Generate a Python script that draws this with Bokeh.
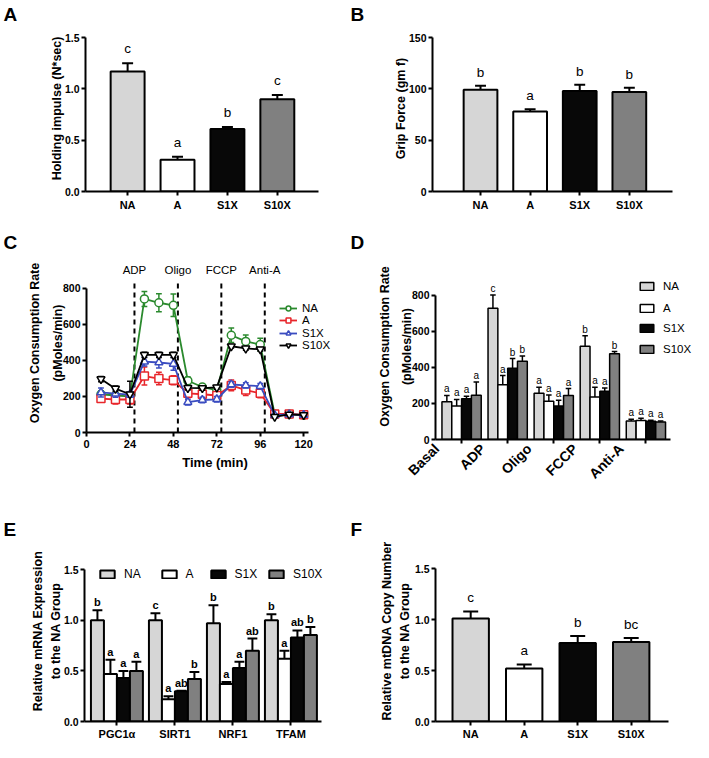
import math
from bokeh.plotting import figure
from bokeh.models import (Range1d, FixedTicker, Legend, LegendItem,
                          NumeralTickFormatter)
from bokeh.layouts import column, row
from bokeh.embed import file_html
from bokeh.resources import INLINE
from bokeh.core.properties import value

FONT = "Liberation Sans"

# ---------------- data ----------------
groups = ["NA", "A", "S1X", "S10X"]
group_fills = ["#d6d6d6", "#ffffff", "#080808", "#808080"]

# A: holding impulse
holding_mean = [1.17, 0.31, 0.61, 0.90]
holding_err = [0.08, 0.03, 0.02, 0.04]
holding_sig = ["c", "a", "b", "c"]

# B: grip force
grip_mean = [99, 78, 98, 97]
grip_err = [4, 2, 6, 4]
grip_sig = ["b", "a", "b", "b"]

# C: oxygen consumption time course
ocr_time = [8, 16, 24, 32, 40, 48, 56, 64, 72, 80, 88, 96, 104, 112, 120]
ocr_na = [212, 205, 200, 740, 719, 705, 287, 252, 235, 539, 505, 487, 101, 101, 96]
ocr_na_err = [20, 15, 15, 42, 50, 62, 20, 15, 15, 40, 35, 35, 8, 8, 5]
ocr_a = [188, 183, 183, 313, 299, 290, 217, 212, 205, 261, 235, 217, 103, 103, 98]
ocr_a_err = [20, 25, 25, 50, 35, 25, 25, 25, 20, 30, 30, 25, 8, 8, 5]
ocr_s1x = [222, 215, 210, 393, 388, 380, 168, 180, 184, 266, 261, 257, 96, 100, 97]
ocr_s1x_err = [25, 20, 15, 25, 30, 35, 15, 15, 15, 15, 15, 15, 8, 5, 5]
ocr_s10x = [296, 243, 212, 430, 430, 430, 247, 246, 250, 478, 466, 461, 87, 100, 97]
ocr_s10x_err = [15, 15, 72, 15, 15, 15, 12, 12, 10, 10, 10, 10, 5, 5, 5]
injections = ["ADP", "Oligo", "FCCP", "Anti-A"]
injection_time = [26.5, 50.5, 74.5, 98.5]
injection_line_top = 846
c_xticks = [0, 24, 48, 72, 96, 120]
c_yticks = [0, 200, 400, 600, 800]

# D: OCR by phase
phases = ["Basal", "ADP", "Oligo", "FCCP", "Anti-A"]
phase_na = [209, 727, 256, 516, 103]
phase_na_err = [35, 73, 33, 58, 9]
phase_na_sig = ["a", "c", "a", "b", "a"]
phase_a = [186, 303, 212, 235, 105]
phase_a_err = [36, 51, 35, 54, 12]
phase_a_sig = ["a", "a", "a", "a", "a"]
phase_s1x = [226, 394, 186, 267, 101]
phase_s1x_err = [14, 54, 31, 18, 5]
phase_s1x_sig = ["a", "b", "a", "a", "a"]
phase_s10x = [245, 433, 244, 475, 97]
phase_s10x_err = [73, 29, 38, 12, 6]
phase_s10x_sig = ["a", "b", "a", "b", "a"]

# E: relative mRNA expression
genes = ["PGC1α", "SIRT1", "NRF1", "TFAM"]
gene_na = [1.00, 1.00, 0.97, 1.00]
gene_na_err = [0.10, 0.07, 0.18, 0.06]
gene_na_sig = ["b", "c", "b", "b"]
gene_a = [0.47, 0.22, 0.37, 0.62]
gene_a_err = [0.14, 0.03, 0.02, 0.08]
gene_a_sig = ["a", "a", "a", "a"]
gene_s1x = [0.43, 0.30, 0.53, 0.83]
gene_s1x_err = [0.07, 0.005, 0.06, 0.07]
gene_s1x_sig = ["a", "ab", "a", "ab"]
gene_s10x = [0.50, 0.42, 0.70, 0.855]
gene_s10x_err = [0.09, 0.07, 0.12, 0.08]
gene_s10x_sig = ["a", "b", "ab", "b"]

# F: relative mtDNA copy number
mtdna_mean = [1.01, 0.52, 0.77, 0.78]
mtdna_err = [0.07, 0.04, 0.07, 0.04]
mtdna_sig = ["c", "a", "b", "bc"]


# ---------------- helpers ----------------
def make_fig(w, h, mbl, mbr, mbt, mbb, xr, yr, xb, yb, letter):
    p = figure(width=w, height=h, x_range=Range1d(*xr), y_range=Range1d(*yr),
               output_backend="svg", toolbar_location=None,
               min_border_left=mbl, min_border_right=mbr,
               min_border_top=mbt, min_border_bottom=mbb, title=letter)
    p.title.align = "left"
    p.title.offset = 3 - mbl
    p.title.standoff = 2
    p.title.text_font = FONT
    p.title.text_font_size = "19px"
    p.title.text_font_style = "bold"
    p.title.text_color = "black"
    p.outline_line_color = None
    p.xgrid.visible = False
    p.ygrid.visible = False
    p.background_fill_color = "white"
    p.border_fill_color = "white"
    p.xaxis.bounds = xb
    p.yaxis.bounds = yb
    for ax in (p.xaxis[0], p.yaxis[0]):
        ax.axis_line_width = 2
        ax.axis_line_color = "black"
        ax.major_tick_line_width = 2
        ax.major_tick_line_color = "black"
        ax.major_tick_out = 4
        ax.major_tick_in = 0
        ax.minor_tick_line_color = None
        ax.major_label_text_font = FONT
        ax.major_label_text_font_style = "bold"
        ax.major_label_text_color = "black"
        ax.major_label_standoff = 3
        ax.axis_label_text_font = FONT
        ax.axis_label_text_font_style = "bold"
        ax.axis_label_text_font_size = "12.5px"
        ax.axis_label_text_color = "black"
        ax.axis_label_standoff = 5
    p.xaxis.major_label_text_font_size = "11px"
    p.yaxis.major_label_text_font_size = "10.5px"
    p.yaxis.major_label_standoff = 2
    p.yaxis.axis_label_standoff = -2
    return p


def cat_xaxis(p, labels, pad=""):
    p.xaxis.ticker = FixedTicker(ticks=list(range(len(labels))))
    p.xaxis.major_label_overrides = {i: lab + pad for i, lab in enumerate(labels)}


def bars(p, xs, means, errs, sigs, fill, width, cap, lw, sig_size, sig_style, sig_off):
    tops = [m + e for m, e in zip(means, errs)]
    p.segment(x0=xs, y0=means, x1=xs, y1=tops, line_color="black", line_width=lw)
    p.segment(x0=[x - cap / 2 for x in xs], y0=tops, x1=[x + cap / 2 for x in xs], y1=tops,
              line_color="black", line_width=lw)
    r = p.vbar(x=xs, top=means, bottom=0, width=width, fill_color=fill,
               line_color="black", line_width=lw)
    p.text(x=xs, y=tops, text=sigs, text_align="center", text_baseline="bottom",
           y_offset=-sig_off, text_font=value(FONT), text_font_size=sig_size,
           text_font_style=sig_style, text_color="black")
    return r


def place_legend(p, items, xs_, ycs, h, **kw):
    # one legend per entry, so each row/column sits exactly where the reference has it
    for it, x, yc in zip(items, xs_, ycs):
        opts = dict(padding=0, margin=0, spacing=0, border_line_color=None,
                    background_fill_alpha=0, label_text_font=FONT,
                    label_text_color="black", label_width=0, label_height=h)
        opts.update(kw)
        p.add_layout(Legend(items=[it], location=(x, yc - h / 2), **opts))


xs = list(range(len(groups)))

# ---------------- panel A ----------------
pA = make_fig(347, 228, 85, 29, 25, 37, (-0.844, 3.825), (0, 1.619),
              (-0.844, 3.825), (0, 1.5), "A")
cat_xaxis(pA, groups)
pA.yaxis.ticker = FixedTicker(ticks=[0, 0.5, 1.0, 1.5])
pA.yaxis.formatter = NumeralTickFormatter(format="0.0")
pA.yaxis.axis_label = "Holding impulse (N*sec)"
bars(pA, xs, holding_mean, holding_err, holding_sig, group_fills, 0.68, 0.22, 2,
     "13.5px", "normal", 7)

# ---------------- panel B ----------------
pB = make_fig(346, 228, 85, 21, 25, 35, (-0.968, 3.87), (0, 161.7),
              (-0.968, 3.87), (0, 150), "B")
cat_xaxis(pB, groups)
pB.yaxis.ticker = FixedTicker(ticks=[0, 50, 100, 150])
pB.yaxis.axis_label = "Grip Force (gm f)"
bars(pB, xs, grip_mean, grip_err, grip_sig, group_fills, 0.68, 0.22, 2,
     "13.5px", "normal", 6)

# ---------------- panel C ----------------
pC = make_fig(347, 256, 86, 4, 25, 46, (0, 142.0), (0, 992),
              (0, 122.7), (0, 800), "C")
pC.xaxis.ticker = FixedTicker(ticks=c_xticks)
pC.yaxis.ticker = FixedTicker(ticks=c_yticks)
pC.xaxis.axis_label = "Time (min)"
pC.xaxis.axis_label_text_font_size = "13px"
pC.xaxis.axis_label_standoff = 4
pC.yaxis.axis_label = "Oxygen Consumption Rate\n(pMoles/min)"
pC.yaxis.axis_label_text_line_height = 1.65
pC.yaxis.axis_label_standoff = -5
pC.segment(x0=injection_time, y0=[0] * len(injection_time), x1=injection_time,
           y1=[injection_line_top] * len(injection_time), line_color="black",
           line_width=2, line_dash="5 4")
pC.text(x=injection_time, y=[injection_line_top] * len(injection_time), text=injections,
        text_align="center", text_baseline="bottom", y_offset=-4,
        text_font=value(FONT), text_font_size="11.5px", text_color="black")
series_c = [
    ("NA", ocr_na, ocr_na_err, "#2b8a2e", "circle"),
    ("A", ocr_a, ocr_a_err, "#e8262b", "square"),
    ("S1X", ocr_s1x, ocr_s1x_err, "#3a4cc0", "triangle"),
    ("S10X", ocr_s10x, ocr_s10x_err, "#000000", "inverted_triangle"),
]
items_c = []
for name, ys, es, col, mk in series_c:
    lr = pC.line(ocr_time, ys, line_color=col, line_width=1.8)
    lo = [y - e for y, e in zip(ys, es)]
    hi = [y + e for y, e in zip(ys, es)]
    pC.segment(x0=ocr_time, y0=lo, x1=ocr_time, y1=hi, line_color=col, line_width=1.5)
    pC.segment(x0=[t - 1.6 for t in ocr_time], y0=hi, x1=[t + 1.6 for t in ocr_time],
               y1=hi, line_color=col, line_width=1.5)
    pC.segment(x0=[t - 1.6 for t in ocr_time], y0=lo, x1=[t + 1.6 for t in ocr_time],
               y1=lo, line_color=col, line_width=1.5)
    sr = pC.scatter(ocr_time, ys, marker=mk, size=8, fill_color="white",
                    line_color=col, line_width=1.5)
    items_c.append(LegendItem(label=name, renderers=[lr, sr]))
place_legend(pC, items_c, [193] * 4, [124.5, 111.7, 99.0, 87.3], 12,
             glyph_width=18, glyph_height=12, label_standoff=5,
             label_text_font_size="11.5px")

# ---------------- panel D ----------------
pD = make_fig(346, 263, 88, 1, 25, 52, (-0.566, 5.011), (0, 1030),
              (-0.566, 4.534), (0, 800), "D")
# trailing no-break spaces slide the 45-degree labels left of their ticks, as in the reference
cat_xaxis(pD, phases, pad="\u00a0" * 9)
pD.xaxis.major_label_orientation = math.pi / 4
pD.xaxis.major_label_text_font_size = "14px"
pD.xaxis.major_label_standoff = -22
pD.yaxis.ticker = FixedTicker(ticks=[0, 200, 400, 600, 800])
pD.yaxis.axis_label = "Oxygen Consumption Rate\n(pMoles/min)"
pD.yaxis.axis_label_text_line_height = 1.6
pD.yaxis.axis_label_standoff = -5
series_d = [
    (phase_na, phase_na_err, phase_na_sig),
    (phase_a, phase_a_err, phase_a_sig),
    (phase_s1x, phase_s1x_err, phase_s1x_sig),
    (phase_s10x, phase_s10x_err, phase_s10x_sig),
]
bw_d = 0.213
items_d = []
for k, (ms, es, ss) in enumerate(series_d):
    xk = [i + (k - 1.5) * bw_d for i in range(len(phases))]
    r = bars(pD, xk, ms, es, ss, group_fills[k], bw_d, 0.12, 1.5, "10px", "normal", 1)
    items_d.append(LegendItem(label=groups[k], renderers=[r]))
place_legend(pD, items_d, [203] * 4, [151.9, 129.7, 110.1, 89.0], 10,
             glyph_width=17, glyph_height=10, label_standoff=8,
             label_text_font_size="11.5px")

# ---------------- panel E ----------------
pE = make_fig(347, 251, 84, 10, 49, 20, (-0.559, 3.803), (0, 1.789),
              (-0.559, 3.527), (0, 1.5), "E")
cat_xaxis(pE, genes)
pE.xaxis.major_label_standoff = 2
pE.yaxis.ticker = FixedTicker(ticks=[0, 0.5, 1.0, 1.5])
pE.yaxis.formatter = NumeralTickFormatter(format="0.0")
pE.yaxis.axis_label = "Relative mRNA Expression\nto the NA Group"
pE.yaxis.axis_label_text_line_height = 1.25
pE.yaxis.axis_label_standoff = -2
series_e = [
    (gene_na, gene_na_err, gene_na_sig),
    (gene_a, gene_a_err, gene_a_sig),
    (gene_s1x, gene_s1x_err, gene_s1x_sig),
    (gene_s10x, gene_s10x_err, gene_s10x_sig),
]
bw_e = 0.224
items_e = []
for k, (ms, es, ss) in enumerate(series_e):
    xk = [i + (k - 1.5) * bw_e for i in range(len(genes))]
    r = bars(pE, xk, ms, es, ss, group_fills[k], bw_e, 0.17, 2, "11px", "bold", 2)
    items_e.append(LegendItem(label=groups[k], renderers=[r]))
place_legend(pE, items_e, [14, 75.5, 124.5, 183], [145] * 4, 10,
             glyph_width=18, glyph_height=10, label_standoff=8,
             label_text_font_size="12px")

# ---------------- panel F ----------------
pF = make_fig(346, 251, 88, 25, 49, 19, (-0.658, 3.697), (0, 1.777),
              (-0.658, 3.697), (0, 1.5), "F")
cat_xaxis(pF, groups)
pF.xaxis.major_label_standoff = 2
pF.yaxis.ticker = FixedTicker(ticks=[0, 0.5, 1.0, 1.5])
pF.yaxis.formatter = NumeralTickFormatter(format="0.0")
pF.yaxis.axis_label = "Relative mtDNA Copy Number\nto the NA Group"
pF.yaxis.axis_label_text_line_height = 1.25
pF.yaxis.axis_label_standoff = 0
bars(pF, xs, mtdna_mean, mtdna_err, mtdna_sig, group_fills, 0.68, 0.28, 2,
     "13.5px", "normal", 6)

layout = column(row(pA, pB), row(pC, pD), row(pE, pF))
open("out.html", "w").write(file_html(layout, INLINE))
